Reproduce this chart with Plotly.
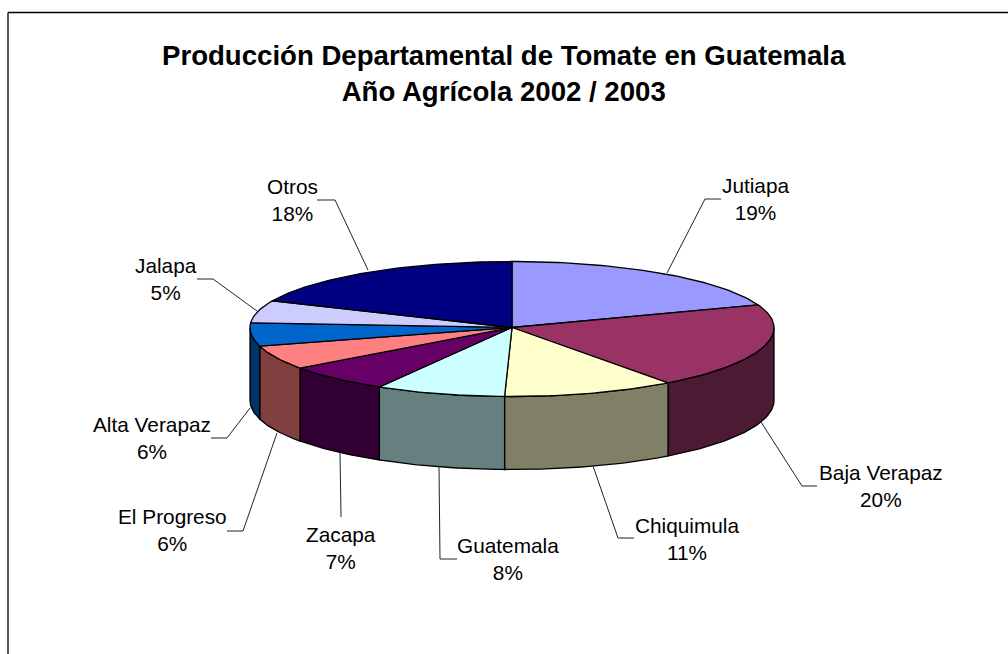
import math
import plotly.graph_objects as go

# ---- data ----
categories = ["Jutiapa", "Baja Verapaz", "Chiquimula", "Guatemala", "Zacapa",
              "El Progreso", "Alta Verapaz", "Jalapa", "Otros"]
shares = [19.45, 20.4, 10.6, 8.0, 6.55, 5.65, 5.5, 5.49, 18.36]
top_colors = ["#9999FF", "#993366", "#FFFFCC", "#CCFFFF", "#660066",
              "#FF8080", "#0066CC", "#CCCCFF", "#000080"]
side_colors = ["#4D4D80", "#4D1A33", "#808066", "#668080", "#330033",
               "#804040", "#003366", "#666680", "#000040"]
title_lines = ["Producción Departamental de Tomate en Guatemala", "Año Agrícola 2002 / 2003"]

# ---- drawing geometry (page pixels) ----
CX, CY, RX, RY_BACK, RY_FRONT, DEPTH = 512, 327.5, 262, 66, 69, 73
label_pos = {"Jutiapa": (755, 198.5), "Baja Verapaz": (881, 486), "Chiquimula": (687, 539),
             "Guatemala": (508, 559), "Zacapa": (341, 548), "El Progreso": (172, 530),
             "Alta Verapaz": (152, 438), "Jalapa": (166, 279), "Otros": (292, 200)}
leaders = {"Jutiapa": [(667, 273), (705, 199), (721, 199)],
           "Baja Verapaz": [(761, 422), (802, 486), (817, 486)],
           "Chiquimula": [(593, 466), (618, 538), (634, 538)],
           "Guatemala": [(439, 466), (440, 559), (457, 559)],
           "Zacapa": [(340, 453), (341, 517)],
           "El Progreso": [(277, 433), (243, 531), (227, 531)],
           "Alta Verapaz": [(250, 408), (227, 438), (211, 438)],
           "Jalapa": [(257, 311), (213, 279), (197, 279)],
           "Otros": [(368, 270), (335, 200), (317, 200)]}


def rim(theta):
    s, c = math.sin(theta), math.cos(theta)
    return CX + RX * s, CY - (RY_BACK if c > 0 else RY_FRONT) * c


def arc(a, b, step=math.radians(1)):
    n = max(2, int((b - a) / step) + 1)
    return [a + (b - a) * i / (n - 1) for i in range(n)]


fig = go.Figure()
total = sum(shares)
angles = [0.0]
for v in shares:
    angles.append(angles[-1] + 2 * math.pi * v / total)

# visible outer wall
for i, name in enumerate(categories):
    a, b = max(angles[i], math.pi / 2), min(angles[i + 1], 3 * math.pi / 2)
    if a >= b:
        continue
    pts = [rim(t) for t in arc(a, b)]
    xs = [p[0] for p in pts] + [p[0] for p in reversed(pts)] + [pts[0][0]]
    ys = [p[1] for p in pts] + [p[1] + DEPTH for p in reversed(pts)] + [pts[0][1]]
    fig.add_trace(go.Scatter(x=xs, y=ys, mode="lines", fill="toself", fillcolor=side_colors[i],
                             line=dict(color="black", width=1.3), hoverinfo="skip", showlegend=False))

# top face
for i, name in enumerate(categories):
    pts = [rim(t) for t in arc(angles[i], angles[i + 1])]
    xs = [CX] + [p[0] for p in pts] + [CX]
    ys = [CY] + [p[1] for p in pts] + [CY]
    fig.add_trace(go.Scatter(x=xs, y=ys, mode="lines", fill="toself", fillcolor=top_colors[i],
                             line=dict(color="black", width=1.3), hoverinfo="skip", showlegend=False))

# leader lines
for name in categories:
    pts = leaders[name]
    fig.add_trace(go.Scatter(x=[p[0] for p in pts], y=[p[1] for p in pts], mode="lines",
                             line=dict(color="#222222", width=1), hoverinfo="skip", showlegend=False))

FONT = "Liberation Sans, Arial, sans-serif"
annotations = [dict(x=504, y=73, xref="x", yref="y", showarrow=False, align="center",
                    text="<b>" + "<br>".join(title_lines) + "</b>",
                    font=dict(family=FONT, size=27.6, color="black"))]
for name, v in zip(categories, shares):
    x, y = label_pos[name]
    annotations.append(dict(x=x, y=y, xref="x", yref="y", showarrow=False, align="center",
                            text=f"{name}<br>{round(v)}%",
                            font=dict(family=FONT, size=20.8, color="black")))

fig.update_layout(
    width=1008, height=654, margin=dict(l=0, r=0, t=0, b=0),
    paper_bgcolor="white", plot_bgcolor="white", showlegend=False,
    xaxis=dict(range=[0, 1008], visible=False, fixedrange=True),
    yaxis=dict(range=[654, 0], visible=False, fixedrange=True),
    annotations=annotations,
    shapes=[dict(type="line", xref="x", yref="y", x0=8, x1=1008, y0=12.5, y1=12.5,
                 line=dict(color="black", width=1.3)),
            dict(type="line", xref="x", yref="y", x0=8, x1=8, y0=12.5, y1=654,
                 line=dict(color="black", width=1.3))],
)
fig.write_html("out.html", config=dict(displayModeBar=False),
               post_script="document.body.style.margin='0';document.body.style.overflow='hidden';")
